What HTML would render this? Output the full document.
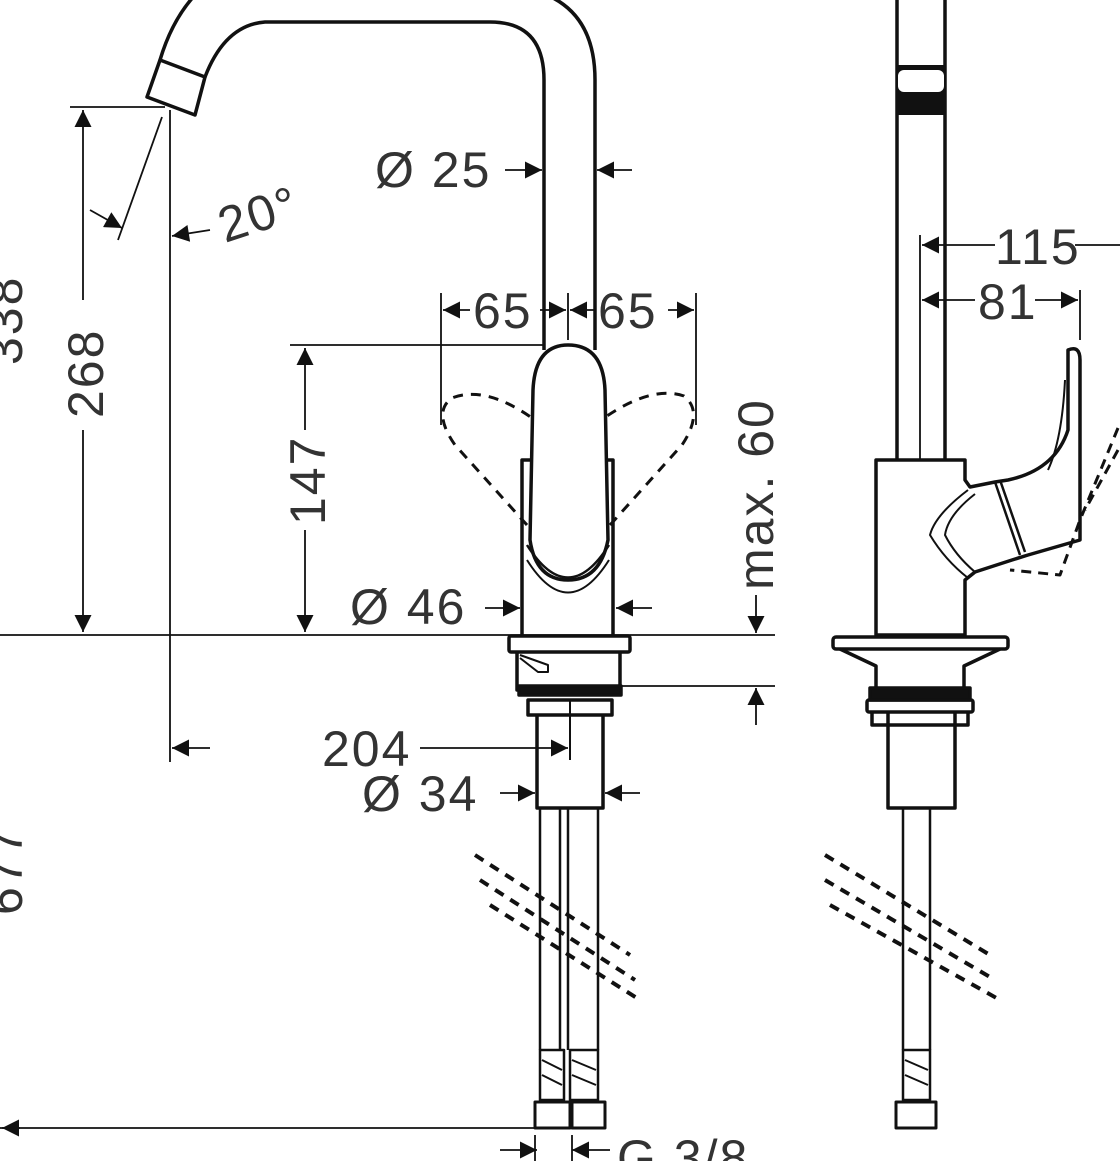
<!DOCTYPE html>
<html><head><meta charset="utf-8"><style>
html,body{margin:0;padding:0;background:#fff;}
svg{display:block}
text{font-family:"Liberation Sans",sans-serif;fill:#333;font-size:50px;letter-spacing:2px}
</style></head><body>
<svg width="1120" height="1161" viewBox="0 0 1120 1161" xmlns="http://www.w3.org/2000/svg">
<defs>
<marker id="a" viewBox="0 0 10 10" refX="10" refY="5" markerWidth="24" markerHeight="17" markerUnits="userSpaceOnUse" orient="auto"><path d="M0,0 L10,5 L0,10 z" fill="#111"/></marker>
</defs>
<g fill="none" stroke="#111" stroke-width="3.5" stroke-linejoin="round">
<path d="M595,350 L595,80 Q595,-10 500,-15"/>
<path d="M544,350 L544,80 Q544,22 490,22 L265,22 Q225,25 205,77"/>
<path d="M195,-5 Q172,20 160,60"/>
<path d="M160,60 L205,77 L195,115 L147,97 Z"/>
<path d="M530,540 L533,390 Q535,345 568,345 Q603,345 605,390 L608,540 Q600,580 568,580 Q536,580 530,540 Z" fill="#fff"/>
<path d="M527,545 Q568,610 609,545" stroke-width="2.5"/>
<path d="M527,560 Q568,625 609,560" stroke-width="2"/>
<path d="M522,635 L522,460 L530,460 M613,635 L613,460 L605,460"/>
<rect x="509" y="636" width="121" height="16" rx="2"/>
<path d="M517,652 L517,690 L620,690 L620,652"/>
<path d="M520,655 L548,665 L548,672 L538,672 L520,658" stroke-width="2"/>
<rect x="519" y="686" width="102" height="9" fill="#111"/>
<path d="M528,700 L528,715 L612,715 L612,700 Z"/>
<path d="M537,715 L537,808 L603,808 L603,715"/>
<path d="M570,700 L570,760" stroke-width="2"/>
<path d="M540,808 L540,1050 M560,808 L560,1050 M568,808 L568,1050 M598,808 L598,1050" stroke-width="2.5"/>
<rect x="540" y="1050" width="24" height="50" stroke-width="2.5"/>
<rect x="570" y="1050" width="28" height="50" stroke-width="2.5"/>
<path d="M542,1060 L562,1070 M542,1075 L562,1085 M572,1060 L596,1070 M572,1075 L596,1085" stroke-width="2"/>
<rect x="535" y="1102" width="35" height="26" stroke-width="3"/>
<rect x="572" y="1102" width="33" height="26" stroke-width="3"/>
<g stroke-dasharray="10,8" stroke-width="3">
<path d="M527,525 L455,445 Q432,412 452,398 Q485,385 532,418"/>
<path d="M610,525 L682,445 Q704,412 684,396 Q652,385 604,418"/>
<path d="M475,855 L630,955 M480,880 L635,980 M490,905 L640,1000" stroke-width="4"/>
<path d="M825,855 L990,955 M825,880 L995,980 M830,905 L1000,1000" stroke-width="4"/>
</g>
</g>
<g stroke="#111" stroke-width="1.8" fill="none">
<line x1="0" y1="635" x2="775" y2="635"/>
<line x1="620" y1="686" x2="775" y2="686"/>
<line x1="70" y1="107" x2="165" y2="107"/>
<line x1="170" y1="110" x2="170" y2="762"/>
<line x1="83" y1="300" x2="83" y2="110" marker-end="url(#a)"/>
<line x1="83" y1="430" x2="83" y2="632" marker-end="url(#a)"/>
<line x1="162" y1="117" x2="118" y2="240"/>
<line x1="90" y1="210" x2="122" y2="228" marker-end="url(#a)"/>
<line x1="210" y1="230" x2="172" y2="236" marker-end="url(#a)"/>
<line x1="290" y1="345" x2="545" y2="345"/>
<line x1="305" y1="430" x2="305" y2="348" marker-end="url(#a)"/>
<line x1="305" y1="530" x2="305" y2="632" marker-end="url(#a)"/>
<line x1="505" y1="170" x2="542" y2="170" marker-end="url(#a)"/>
<line x1="632" y1="170" x2="597" y2="170" marker-end="url(#a)"/>
<line x1="441" y1="293" x2="441" y2="425"/>
<line x1="696" y1="293" x2="696" y2="425"/>
<line x1="568" y1="293" x2="568" y2="340"/>
<line x1="470" y1="310" x2="443" y2="310" marker-end="url(#a)"/>
<line x1="540" y1="310" x2="566" y2="310" marker-end="url(#a)"/>
<line x1="596" y1="310" x2="570" y2="310" marker-end="url(#a)"/>
<line x1="668" y1="310" x2="694" y2="310" marker-end="url(#a)"/>
<line x1="485" y1="608" x2="520" y2="608" marker-end="url(#a)"/>
<line x1="652" y1="608" x2="616" y2="608" marker-end="url(#a)"/>
<line x1="756" y1="595" x2="756" y2="633" marker-end="url(#a)"/>
<line x1="756" y1="725" x2="756" y2="688" marker-end="url(#a)"/>
<line x1="210" y1="748" x2="172" y2="748" marker-end="url(#a)"/>
<line x1="420" y1="748" x2="568" y2="748" marker-end="url(#a)"/>
<line x1="500" y1="793" x2="535" y2="793" marker-end="url(#a)"/>
<line x1="640" y1="793" x2="605" y2="793" marker-end="url(#a)"/>
<line x1="0" y1="1128" x2="535" y2="1128"/>
<line x1="500" y1="1150" x2="537" y2="1150" marker-end="url(#a)"/>
<line x1="610" y1="1150" x2="572" y2="1150" marker-end="url(#a)"/>
<line x1="535" y1="1135" x2="535" y2="1161"/><line x1="572" y1="1135" x2="572" y2="1161"/>
<line x1="20" y1="1128" x2="2" y2="1128" marker-end="url(#a)"/>
<line x1="920" y1="235" x2="920" y2="460"/>
<line x1="1080" y1="290" x2="1080" y2="340"/>
<line x1="995" y1="245" x2="922" y2="245" marker-end="url(#a)"/>
<line x1="1075" y1="245" x2="1120" y2="245"/>
<line x1="975" y1="300" x2="922" y2="300" marker-end="url(#a)"/>
<line x1="1035" y1="300" x2="1078" y2="300" marker-end="url(#a)"/>
</g>
<g fill="none" stroke="#111" stroke-width="3.5" stroke-linejoin="round">
<path d="M897,0 L897,460 M945,0 L945,460"/>
<rect x="898" y="65" width="46" height="50" fill="#111" stroke="none"/>
<rect x="898" y="70" width="46" height="22" fill="#fff" stroke="none" rx="6"/>
<path d="M876,635 L876,460 L965,460 L965,480 L970,487 L995,482 L1008,480 Q1055,470 1068,430 L1068,350 Q1080,345 1080,360 L1080,540 L1028,555 L1012,560 L975,572 L965,580 L965,635 Z"/>
<path d="M995,482 L1020,555 M1000,480 L1025,552" stroke-width="2.5"/>
<path d="M968,490 Q935,515 930,535 Q945,560 968,578 M975,494 Q948,515 945,535 Q955,555 975,572" stroke-width="2"/>
<path d="M1065,380 Q1062,440 1048,470" stroke-width="2"/>
<path d="M1118,428 L1080,520 L1060,575 L1010,570" stroke-dasharray="10,7" stroke-width="3"/>
<path d="M1118,450 L1085,510" stroke-dasharray="10,7" stroke-width="3"/>
<rect x="833" y="637" width="175" height="12" rx="3"/>
<path d="M840,649 L876,666 L876,690 M1000,649 L964,666 L964,690"/>
<rect x="870" y="688" width="100" height="12" fill="#111"/>
<rect x="867" y="700" width="106" height="12" rx="2"/>
<path d="M872,712 L872,725 L968,725 L968,712"/>
<path d="M888,712 L888,808 L955,808 L955,712"/>
<path d="M903,808 L903,1050 M930,808 L930,1050" stroke-width="2.5"/>
<rect x="903" y="1050" width="27" height="50" stroke-width="2.5"/>
<path d="M905,1060 L928,1070 M905,1075 L928,1085" stroke-width="2"/>
<rect x="896" y="1102" width="40" height="26" stroke-width="3"/>
</g>
<text x="375" y="187">Ø 25</text>
<text x="473" y="328">65</text>
<text x="598" y="328">65</text>
<text x="350" y="624">Ø 46</text>
<text x="322" y="766">204</text>
<text x="362" y="811">Ø 34</text>
<text x="617" y="1175">G 3/8</text>
<text x="995" y="264">115</text>
<text x="978" y="319">81</text>
<text transform="translate(225,243) rotate(-18)">20°</text>
<text transform="translate(103,418) rotate(-90)">268</text>
<text transform="translate(325,525) rotate(-90)">147</text>
<text transform="translate(773,590) rotate(-90)">max. 60</text>
<text transform="translate(22,365) rotate(-90)">338</text>
<text transform="translate(22,915) rotate(-90)">677</text>
</svg>
</body></html>
